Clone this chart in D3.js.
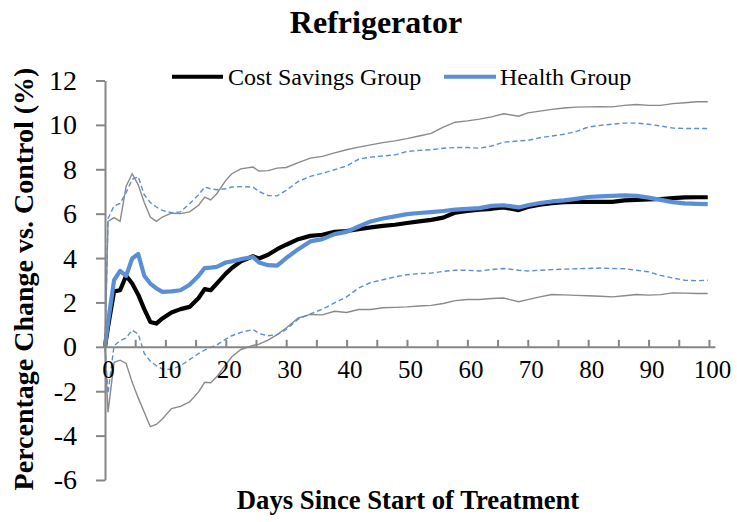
<!DOCTYPE html>
<html>
<head>
<meta charset="utf-8">
<script src="https://cdn.jsdelivr.net/npm/d3@7"></script>
<style>
  html, body { margin: 0; padding: 0; background: #ffffff; }
  svg { display: block; font-family: "Liberation Serif", "Times New Roman", serif; }
</style>
</head>
<body>
<svg id="chart" width="737" height="522"></svg>
<script>
// ---------------- DATA ----------------
const title = "Refrigerator";
const xTitle = "Days Since Start of Treatment";
const yTitle = "Percentage Change vs. Control (%)";
const seriesNames = ["Cost Savings Group", "Health Group"];

const days = [0, 0.5, 1.5, 2.5, 3.5, 4.5, 5.5, 6.5, 7.5, 8.5, 9.5, 11, 12.5, 14, 15.5, 16.5, 17.5, 18.5, 20, 21,
  22.5, 24.5, 25.5, 27, 28.5, 30, 32, 34, 36, 38, 40, 42, 44, 46, 48, 50, 52, 54, 56, 58,
  60, 62, 64, 66, 68.5, 70, 72, 74, 76, 78, 80, 82, 84, 86, 88, 90, 92, 94, 96, 98, 99.8];

const costMean = [0, 0.9, 2.5, 2.55, 3.2, 2.85, 2.35, 1.7, 1.12, 1.05, 1.28, 1.55, 1.7, 1.8, 2.2, 2.6, 2.55, 2.85, 3.3, 3.55,
  3.85, 4.08, 3.98, 4.15, 4.4, 4.6, 4.85, 5.0, 5.05, 5.18, 5.22, 5.3, 5.38, 5.45, 5.5, 5.58, 5.65, 5.72, 5.82, 6.05,
  6.12, 6.18, 6.22, 6.28, 6.16, 6.3, 6.4, 6.47, 6.52, 6.53, 6.53, 6.53, 6.53, 6.6, 6.62, 6.64, 6.66, 6.7, 6.73, 6.74, 6.74];

const healthMean = [0, 1.1, 3.0, 3.42, 3.2, 3.98, 4.18, 3.2, 2.85, 2.63, 2.48, 2.5, 2.55, 2.8, 3.2, 3.55, 3.57, 3.6, 3.8, 3.85,
  3.95, 4.05, 3.8, 3.68, 3.66, 4.0, 4.4, 4.75, 4.85, 5.08, 5.18, 5.42, 5.65, 5.78, 5.88, 5.98, 6.03, 6.07, 6.12, 6.18,
  6.22, 6.25, 6.35, 6.38, 6.28, 6.38, 6.48, 6.55, 6.6, 6.67, 6.75, 6.78, 6.8, 6.82, 6.8, 6.72, 6.62, 6.52, 6.46, 6.44, 6.43];

const costUpper = [0, 5.65, 5.82, 5.65, 7.24, 7.8, 7.3, 6.5, 5.85, 5.65, 5.85, 6.02, 6.0, 6.08, 6.38, 6.75, 6.62, 6.9, 7.5, 7.8,
  8.02, 8.1, 7.92, 7.94, 8.05, 8.08, 8.3, 8.5, 8.58, 8.74, 8.88, 9.0, 9.1, 9.2, 9.28, 9.38, 9.5, 9.62, 9.9, 10.12,
  10.18, 10.26, 10.36, 10.5, 10.39, 10.54, 10.62, 10.7, 10.76, 10.8, 10.81, 10.82, 10.81, 10.88, 10.92, 10.88, 10.88, 10.96, 11.0, 11.04, 11.04];

const costLower = [0, -2.95, -0.7, -0.6, -0.75, -1.6, -2.3, -2.95, -3.6, -3.5, -3.25, -2.78, -2.68, -2.48, -2.03, -1.6, -1.62, -1.35, -0.8, -0.45,
  -0.12, 0.06, 0.12, 0.3, 0.55, 0.85, 1.3, 1.46, 1.44, 1.6, 1.55, 1.68, 1.68, 1.76, 1.78, 1.8, 1.84, 1.87, 1.95, 2.08,
  2.13, 2.13, 2.18, 2.2, 2.03, 2.13, 2.25, 2.36, 2.34, 2.32, 2.3, 2.28, 2.25, 2.3, 2.36, 2.33, 2.35, 2.43, 2.42, 2.4, 2.4];

const healthUpper = [0, 5.78, 6.35, 6.46, 6.95, 7.55, 7.66, 6.85, 6.5, 6.3, 6.15, 6.04, 6.08, 6.45, 6.85, 7.2, 7.12, 7.08, 7.12, 7.2,
  7.22, 7.2, 7.0, 6.82, 6.8, 7.05, 7.45, 7.68, 7.82, 7.98, 8.15, 8.45, 8.55, 8.6, 8.65, 8.8, 8.85, 8.88, 8.95, 8.98,
  8.98, 8.95, 9.05, 9.22, 9.28, 9.3, 9.42, 9.5, 9.58, 9.7, 9.9, 9.98, 10.03, 10.08, 10.08, 10.03, 9.95, 9.86, 9.84, 9.84, 9.84];

const healthLower = [0, -2.1, 0.05, 0.28, 0.4, 0.75, 0.58, -0.3, -0.65, -0.85, -1.0, -1.02, -0.85, -0.58, -0.3, -0.15, -0.02, 0.08, 0.35, 0.5,
  0.65, 0.78, 0.6, 0.5, 0.55, 0.78, 1.25, 1.48, 1.7, 1.98, 2.25, 2.65, 2.9, 3.02, 3.15, 3.25, 3.3, 3.32, 3.4, 3.45,
  3.45, 3.42, 3.48, 3.53, 3.45, 3.42, 3.45, 3.48, 3.5, 3.52, 3.53, 3.55, 3.53, 3.52, 3.45, 3.38, 3.22, 3.1, 3.0, 2.98, 3.0];

const yTickValues = [-6, -4, -2, 0, 2, 4, 6, 8, 10, 12];
const xTickMarks = [0, 5, 10, 15, 20, 25, 30, 35, 40, 45, 50, 55, 60, 65, 70, 75, 80, 85, 90, 95, 100];
const xTickLabels = [0, 10, 20, 30, 40, 50, 60, 70, 80, 90, 100];

// ---------------- STYLE ----------------
const BLUE = "#5a8fd8";
const AXIS = "#868686";

const svg = d3.select("#chart");

const x = d3.scaleLinear().domain([0, 101]).range([105, 715]);
const y = d3.scaleLinear().domain([-6, 12]).range([480, 80.5]);

// Title
svg.append("text")
  .attr("x", 376).attr("y", 33)
  .attr("text-anchor", "middle")
  .attr("font-size", 32).attr("font-weight", "bold")
  .text(title);

// Lines
const line = vals => d3.line()
  .x((d, i) => x(days[i]))
  .y(d => y(d))(vals);

const g = svg.append("g");

g.append("path").attr("d", line(costUpper)).attr("fill", "none").attr("stroke", "#8a8a8a").attr("stroke-width", 1.4);
g.append("path").attr("d", line(costLower)).attr("fill", "none").attr("stroke", "#8a8a8a").attr("stroke-width", 1.4);
g.append("path").attr("d", line(healthUpper)).attr("fill", "none").attr("stroke", BLUE).attr("stroke-width", 1.4).attr("stroke-dasharray", "5,3");
g.append("path").attr("d", line(healthLower)).attr("fill", "none").attr("stroke", BLUE).attr("stroke-width", 1.4).attr("stroke-dasharray", "5,3");
g.append("path").attr("d", line(costMean)).attr("fill", "none").attr("stroke", "#000").attr("stroke-width", 4.2).attr("stroke-linejoin", "round");
g.append("path").attr("d", line(healthMean)).attr("fill", "none").attr("stroke", BLUE).attr("stroke-width", 4.2).attr("stroke-linejoin", "round");

// Y axis
const yAxis = svg.append("g")
  .attr("transform", `translate(${x(0)},0)`)
  .call(d3.axisLeft(y).tickValues(yTickValues).tickSize(9).tickSizeOuter(0).tickPadding(19).tickFormat(d => String(d)));
yAxis.select(".domain").attr("stroke", AXIS).attr("stroke-width", 2);
yAxis.selectAll(".tick line").attr("stroke", AXIS).attr("stroke-width", 2);
yAxis.selectAll(".tick text").attr("font-size", 28).attr("font-family", "Liberation Serif").attr("fill", "#000");

// X axis line + tick marks (upwards) at y = 0
const xAxis = svg.append("g")
  .attr("transform", `translate(0,${y(0)})`)
  .call(d3.axisTop(x).tickValues(xTickMarks).tickSize(7).tickSizeOuter(0).tickFormat(""));
xAxis.select(".domain").attr("stroke", AXIS).attr("stroke-width", 2);
xAxis.selectAll(".tick line").attr("stroke", AXIS).attr("stroke-width", 2);

// X labels (centred on the category)
const xLab = svg.append("g")
  .attr("transform", `translate(3,${y(0)})`)
  .call(d3.axisBottom(x).tickValues(xTickLabels).tickSize(0).tickPadding(13).tickFormat(d => String(d)));
xLab.select(".domain").remove();
xLab.selectAll(".tick text").attr("font-size", 25).attr("font-family", "Liberation Serif").attr("fill", "#000");

// Axis titles
svg.append("text")
  .attr("x", 408).attr("y", 509)
  .attr("text-anchor", "middle")
  .attr("font-size", 26.7).attr("font-weight", "bold")
  .text(xTitle);

svg.append("text")
  .attr("transform", "translate(33,279) rotate(-90)")
  .attr("text-anchor", "middle")
  .attr("font-size", 28).attr("font-weight", "bold")
  .text(yTitle);

// Legend
const legend = [
  { name: seriesNames[0], color: "#000", x1: 172, x2: 223, tx: 228 },
  { name: seriesNames[1], color: BLUE, x1: 444, x2: 496, tx: 500 }
];
legend.forEach(l => {
  svg.append("line").attr("x1", l.x1).attr("x2", l.x2).attr("y1", 76.7).attr("y2", 76.7)
    .attr("stroke", l.color).attr("stroke-width", 4);
  svg.append("text").attr("x", l.tx).attr("y", 85).attr("font-size", 24).text(l.name);
});
</script>
</body>
</html>
